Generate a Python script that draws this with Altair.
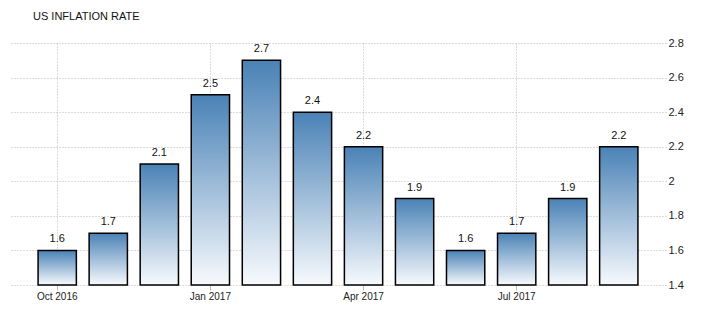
import altair as alt
import pandas as pd

months = ["Oct 2016", "Nov 2016", "Dec 2016", "Jan 2017", "Feb 2017", "Mar 2017",
          "Apr 2017", "May 2017", "Jun 2017", "Jul 2017", "Aug 2017", "Sep 2017"]
rates = [1.6, 1.7, 2.1, 2.5, 2.7, 2.4, 2.2, 1.9, 1.6, 1.7, 1.9, 2.2]
x_labels = ["Oct 2016", "Jan 2017", "Apr 2017", "Jul 2017"]
y_ticks = [1.4, 1.6, 1.8, 2.0, 2.2, 2.4, 2.6, 2.8]
base = 1.4

df = pd.DataFrame({"month": months, "rate": rates, "base": [base] * len(months)})

FONT = "Liberation Sans"

x = alt.X(
    "month:N",
    sort=months,
    scale=alt.Scale(paddingInner=0.25, paddingOuter=0.55),
    axis=alt.Axis(
        values=x_labels, title=None, labelAngle=0, grid=True, bandPosition=0.5,
        gridColor="#b8b8b8", gridDash=[1, 2], gridWidth=1,
        domain=False, ticks=True, tickColor="#b8b8b8", tickSize=5, tickBand="center",
        labelFont=FONT, labelFontSize=10, labelColor="#222", labelPadding=1,
    ),
)
y = alt.Y(
    "rate:Q",
    scale=alt.Scale(domain=[1.4, 2.8], zero=False, nice=False),
    axis=alt.Axis(
        orient="right", values=y_ticks, tickCount=8, labelOverlap=False,
        title=None, format="~g", grid=True,
        gridColor="#b8b8b8", gridDash=[1, 2], gridWidth=1,
        domain=False, ticks=False, labelPadding=2,
        labelFont=FONT, labelFontSize=11, labelColor="#222",
    ),
)

gradient = alt.Gradient(
    gradient="linear",
    stops=[alt.GradientStop(color="#4a82b6", offset=0),
           alt.GradientStop(color="#f7fafd", offset=1)],
    x1=0, x2=0, y1=0, y2=1,
)

bars = alt.Chart(df).mark_bar(fill=gradient, stroke="#000", strokeWidth=1.5).encode(
    x=x, y=y, y2="base:Q"
)

labels = alt.Chart(df).mark_text(
    baseline="bottom", dy=-6, font=FONT, fontSize=11, color="#111"
).encode(
    x=x,
    y=y,
    text=alt.Text("rate:Q", format=".1f"),
)

chart = (bars + labels).properties(
    width=656,
    height=242,
    padding={"left": 10, "top": 43, "right": 50, "bottom": 29},
    autosize=alt.AutoSizeParams(type="none"),
    title=alt.TitleParams(
        "US INFLATION RATE", anchor="start", dx=23, offset=15,
        font=FONT, fontSize=11, fontWeight="normal", color="#111",
    ),
).configure_view(stroke=None)

chart.save("out.html", embed_options={"renderer": "svg", "actions": False})
